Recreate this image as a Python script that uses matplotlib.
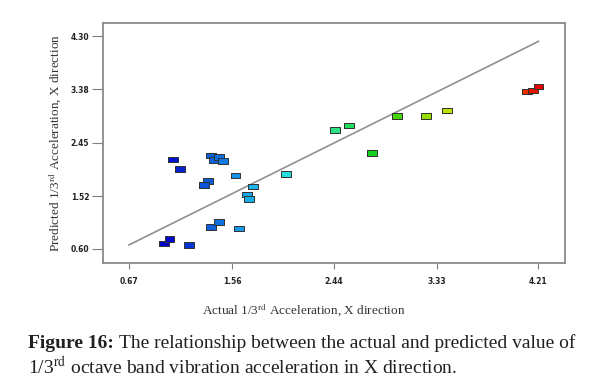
import numpy as np
import matplotlib
matplotlib.use('Agg')
from matplotlib import pyplot as plt
from matplotlib.colors import LinearSegmentedColormap

plt.rcParams['font.family'] = 'Liberation Serif'
plt.rcParams['mathtext.fontset'] = 'stix'

# actual vs predicted values
actual = [0.97, 1.02, 1.19, 1.05, 1.11, 1.38, 1.40, 1.45, 1.48, 1.59,
          1.35, 1.32, 1.74, 1.69, 1.71, 2.03, 1.38, 1.45, 1.62,
          2.45, 2.57, 2.77, 2.99, 3.24, 3.42, 4.11, 4.16, 4.21]
predicted = [0.69, 0.77, 0.67, 2.16, 1.99, 2.23, 2.15, 2.20, 2.13, 1.88,
             1.78, 1.71, 1.69, 1.55, 1.47, 1.90, 0.98, 1.07, 0.96,
             2.67, 2.75, 2.27, 2.91, 2.91, 3.01, 3.34, 3.36, 3.43]

x_ticks = [0.67, 1.56, 2.44, 3.33, 4.21]
y_ticks = [0.60, 1.52, 2.45, 3.38, 4.30]

# design-expert like colour ramp by actual value
cmap = LinearSegmentedColormap.from_list(
    'de', ['#0000c8', '#1070e0', '#20d8f0', '#30e8a0', '#10d010',
           '#a0e000', '#f0f000', '#e80000'])
norm_vals = [(a - min(actual)) / (max(actual) - min(actual)) for a in actual]
colors = [cmap(v) for v in norm_vals]

rect = [(-1, -0.55), (1, -0.55), (1, 0.55), (-1, 0.55), (-1, -0.55)]

fig = plt.figure(figsize=(5.96, 3.90), dpi=100)
ax = fig.add_axes([0.173, 0.326, 0.775, 0.615])

ax.plot([x_ticks[0], x_ticks[-1]], [x_ticks[0], x_ticks[-1]],
        color='#909090', lw=1.2, zorder=1)
ax.scatter(actual, predicted, marker=rect, s=50, c=colors,
           edgecolors='#303030', linewidths=0.7, zorder=3)

ax.set_xlim(0.445, 4.44)
ax.set_ylim(0.357, 4.53)
ax.set_xticks(x_ticks)
ax.set_xticklabels(['%.2f' % t for t in x_ticks])
ax.set_yticks(y_ticks)
ax.set_yticklabels(['%.2f' % t for t in y_ticks])
for lbl in ax.get_xticklabels() + ax.get_yticklabels():
    lbl.set_family('DejaVu Sans')
    lbl.set_fontweight('bold')
    lbl.set_fontsize(5.5)
    lbl.set_color('#222222')
ax.tick_params(axis='y', length=8, width=0.8, color='#808080', pad=2)
ax.tick_params(axis='x', length=4, width=0.8, color='#808080', pad=6)
for s in ax.spines.values():
    s.set_color('#8a8a8a')
    s.set_linewidth(1.3)

ax.set_ylabel(r'Predicted 1/3$^{\mathrm{rd}}$ Acceleration, X direction',
              fontsize=9.5, color='#333333', labelpad=5)
fig.text(304 / 596, 1 - 310 / 390,
         r'Actual 1/3$^{\mathrm{rd}}$ Acceleration, X direction',
         fontsize=9.5, color='#333333', ha='center', va='center')

# caption
cap_col = '#231f20'
t1 = fig.text(28 / 596, 1 - 343 / 390, 'Figure 16:', fontsize=14,
              fontweight='bold', color=cap_col, va='center')
fig.canvas.draw()
bb = t1.get_window_extent()
fig.text(bb.x1 / fig.bbox.width + 0.009, 1 - 343 / 390,
         'The relationship between the actual and predicted value of',
         fontsize=14, color=cap_col, va='center')
fig.text(28 / 596, 1 - 367 / 390,
         r'1/3$^{\mathrm{rd}}$ octave band vibration acceleration in X direction.',
         fontsize=14, color=cap_col, va='center')

plt.savefig('out.png', dpi=100)
